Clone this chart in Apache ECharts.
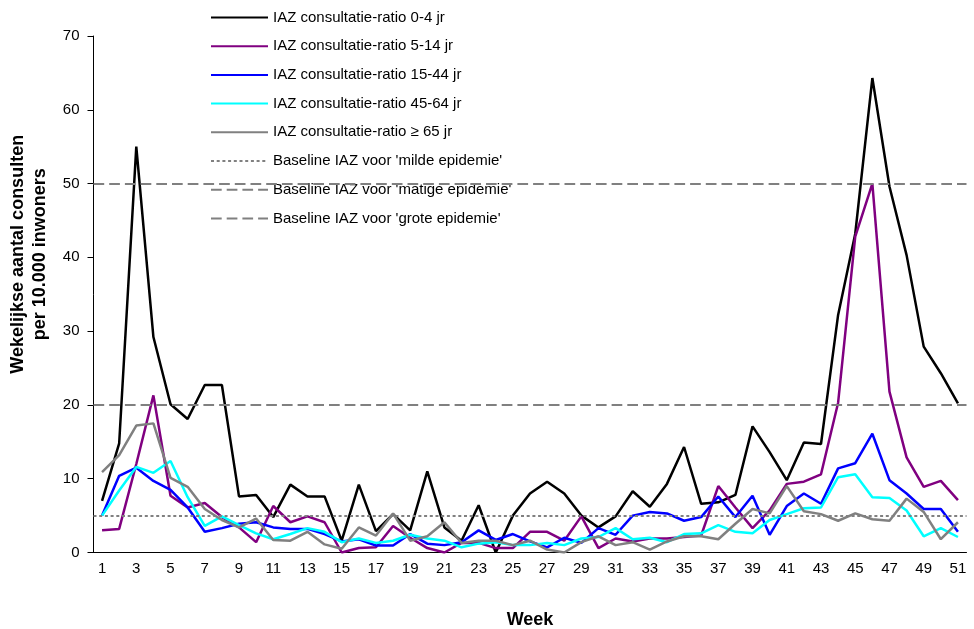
<!DOCTYPE html>
<html>
<head>
<meta charset="utf-8">
<title>IAZ consultatie-ratio per week</title>
<script src="https://cdn.jsdelivr.net/npm/echarts@6/dist/echarts.min.js"></script>
<style>
    html, body { margin: 0; padding: 0; background: #ffffff; }
    #chart { width: 974px; height: 629px; }
</style>
</head>
<body>
<div id="chart"></div>
<script>
// weeks on the x axis
const weeks = ['1','2','3','4','5','6','7','8','9','10','11','12','13','14','15','16','17','18','19','20',
    '21','22','23','24','25','26','27','28','29','30','31','32','33','34','35','36','37','38','39','40',
    '41','42','43','44','45','46','47','48','49','50','51'];

// consultations per 10.000 inhabitants
const age0_4 = [7.0, 14.8, 55.0, 29.2, 20.1, 18.1, 22.7, 22.7, 7.6, 7.8,
    4.8, 9.2, 7.6, 7.6, 1.6, 9.2, 2.9, 5.2, 3.0, 11.0,
    3.4, 1.6, 6.4, 0, 5.0, 8.0, 9.6, 8.0, 5.0, 3.4,
    4.9, 8.3, 6.2, 9.3, 14.3, 6.6, 6.8, 7.8, 17.1, 13.6,
    9.8, 14.9, 14.7, 32.2, 43.2, 64.3, 49.6, 40.3, 27.9, 24.3, 20.2];
const age5_14 = [3.0, 3.2, 12.0, 21.3, 7.7, 6.1, 6.7, 4.8, 3.4, 1.4,
    6.3, 4.1, 4.9, 4.1, 0, 0.6, 0.7, 3.6, 2.0, 0.6,
    0, 1.3, 1.3, 0.6, 0.6, 2.8, 2.8, 1.6, 4.9, 0.6,
    1.9, 1.5, 1.9, 1.9, 2.1, 2.3, 9.0, 6.1, 3.3, 5.7,
    9.3, 9.6, 10.6, 20.3, 42.8, 50.0, 21.8, 12.9, 8.9, 9.7, 7.1];
const age15_44 = [5.0, 10.4, 11.5, 9.7, 8.5, 6.1, 2.8, 3.3, 3.9, 4.1,
    3.4, 3.2, 3.2, 2.5, 1.5, 1.8, 0.95, 0.95, 2.5, 1.2,
    1.0, 1.4, 3.0, 1.7, 2.5, 1.5, 0.7, 2.0, 1.3, 3.3,
    2.4, 5.0, 5.5, 5.3, 4.3, 4.8, 7.6, 4.8, 7.7, 2.4,
    6.3, 8.0, 6.6, 11.4, 12.1, 16.1, 9.8, 8.0, 5.9, 5.9, 2.8];
const age45_64 = [5.0, 8.4, 11.6, 10.8, 12.4, 7.5, 3.6, 4.9, 3.7, 2.6,
    1.8, 2.5, 3.3, 2.8, 1.4, 1.9, 1.3, 1.6, 2.4, 1.9,
    1.6, 0.7, 1.2, 1.4, 1.0, 1.0, 1.3, 1.0, 1.9, 2.1,
    3.3, 1.8, 2.0, 1.4, 2.5, 2.6, 3.7, 2.8, 2.6, 4.4,
    5.2, 6.0, 6.1, 10.2, 10.6, 7.5, 7.4, 5.7, 2.2, 3.3, 2.1];
const age65plus = [10.9, 13.2, 17.2, 17.5, 10.1, 8.9, 5.9, 4.4, 3.4, 4.6,
    1.7, 1.6, 2.8, 1.1, 0.5, 3.4, 2.3, 5.3, 1.6, 2.2,
    4.1, 1.3, 1.6, 1.6, 1.0, 1.6, 0.4, 0, 1.4, 2.2,
    1.0, 1.4, 0.4, 1.5, 2.2, 2.2, 1.8, 3.9, 5.9, 5.3,
    9.0, 5.6, 5.2, 4.3, 5.3, 4.5, 4.3, 7.3, 5.5, 1.8, 4.1];

// baselines
const baselineMild = 5;
const baselineMatig = 20;
const baselineGroot = 50;

const font = '"Liberation Sans", Arial, sans-serif';

function ageSeries(name, data, color){
    return {
        name: name,
        type: 'line',
        data: data,
        symbol: 'none',
        itemStyle: { color: color },
        lineStyle: { color: color, width: 2.5 },
        z: 3
    };
}

function baselineSeries(name, value, dash){
    return {
        name: name,
        type: 'line',
        data: [],
        symbol: 'none',
        itemStyle: { color: '#808080' },
        lineStyle: { color: '#808080', width: 2, type: dash },
        z: 5,
        markLine: {
            silent: true,
            symbol: 'none',
            label: { show: false },
            lineStyle: { color: '#808080', width: 2, type: dash },
            data: [{ yAxis: value }]
        }
    };
}

let chart = echarts.init(document.getElementById('chart'));
chart.setOption({
    animation: false,
    backgroundColor: '#ffffff',
    textStyle: { fontFamily: font },
    grid: {
        left: 93.5,
        right: 7.5,
        top: 36,
        bottom: 76.5,
        containLabel: false,
        outerBoundsMode: 'none'
    },
    legend: {
        orient: 'vertical',
        left: 205,
        top: 5,
        itemWidth: 57,
        itemHeight: 14,
        itemGap: 13.7,
        itemStyle: { opacity: 0 },
        textStyle: { fontFamily: font, fontSize: 15, color: '#000000', lineHeight: 15 },
        data: [
            'IAZ consultatie-ratio 0-4 jr',
            'IAZ consultatie-ratio 5-14 jr',
            'IAZ consultatie-ratio 15-44 jr',
            'IAZ consultatie-ratio 45-64 jr',
            'IAZ consultatie-ratio \u2265 65 jr',
            "Baseline IAZ voor 'milde epidemie'",
            "Baseline IAZ voor 'matige epidemie'",
            "Baseline IAZ voor 'grote epidemie'"
        ]
    },
    xAxis: {
        type: 'category',
        data: weeks,
        boundaryGap: true,
        name: 'Week',
        nameLocation: 'middle',
        nameGap: 59,
        nameTextStyle: { fontFamily: font, fontSize: 18, fontWeight: 'bold', color: '#000000' },
        axisLine: { lineStyle: { color: '#000000', width: 1 } },
        axisTick: { interval: 0, alignWithLabel: false, length: 6, lineStyle: { color: '#000000' } },
        axisLabel: { interval: 1, margin: 9, fontFamily: font, fontSize: 15, color: '#000000' },
        splitLine: { show: false }
    },
    yAxis: {
        type: 'value',
        min: 0,
        max: 70,
        interval: 10,
        name: 'Wekelijkse aantal consulten\nper 10.000 inwoners',
        nameLocation: 'middle',
        nameRotate: 90,
        nameGap: 42,
        nameTextStyle: {
            fontFamily: font, fontSize: 18, fontWeight: 'bold', color: '#000000',
            lineHeight: 22, padding: [0, 0, 0, 80]
        },
        axisLine: { show: true, lineStyle: { color: '#000000', width: 1 } },
        axisTick: { show: true, length: 6, lineStyle: { color: '#000000' } },
        axisLabel: { margin: 14, fontFamily: font, fontSize: 15, color: '#000000' },
        splitLine: { show: false }
    },
    series: [
        ageSeries('IAZ consultatie-ratio 0-4 jr', age0_4, '#000000'),
        ageSeries('IAZ consultatie-ratio 5-14 jr', age5_14, '#800080'),
        ageSeries('IAZ consultatie-ratio 15-44 jr', age15_44, '#0000ff'),
        ageSeries('IAZ consultatie-ratio 45-64 jr', age45_64, '#00ffff'),
        ageSeries('IAZ consultatie-ratio \u2265 65 jr', age65plus, '#808080'),
        baselineSeries("Baseline IAZ voor 'milde epidemie'", baselineMild, [3, 2.7]),
        baselineSeries("Baseline IAZ voor 'matige epidemie'", baselineMatig, [10.7, 5]),
        baselineSeries("Baseline IAZ voor 'grote epidemie'", baselineGroot, [10.7, 5])
    ]
});
</script>
</body>
</html>
